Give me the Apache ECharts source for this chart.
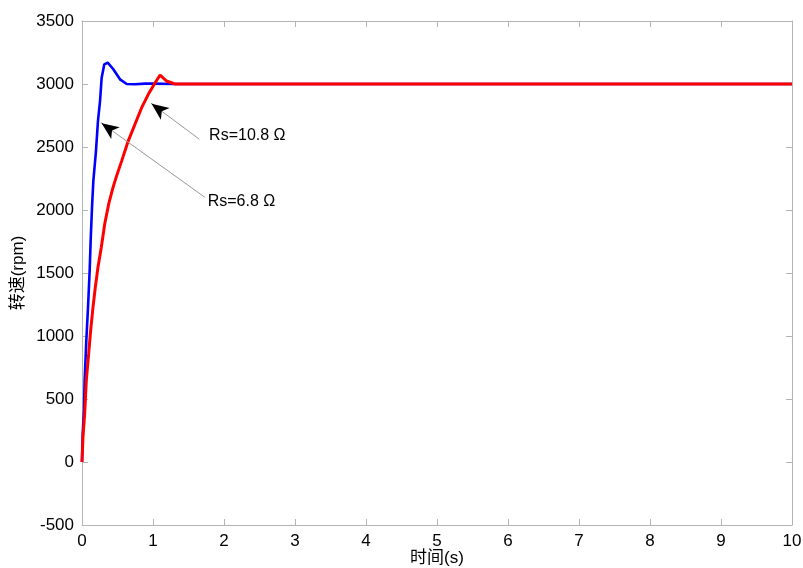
<!DOCTYPE html>
<html>
<head>
<meta charset="utf-8">
<script src="https://cdn.jsdelivr.net/npm/echarts@6/dist/echarts.min.js"></script>
<style>
  html, body { margin: 0; padding: 0; background: #fff; }
  #main { width: 803px; height: 568px; }
</style>
</head>
<body>
<div id="main"></div>
<script>
// 转速响应数据 (时间 s, 转速 rpm)
var blueT = [0, 0.01, 0.028, 0.037, 0.061, 0.085, 0.108, 0.122, 0.141, 0.16, 0.197, 0.225, 0.254, 0.277, 0.314, 0.362, 0.441, 0.535, 0.63, 0.746, 0.887, 1.0, 1.3, 10];
var blueV = [0, 227, 412, 649, 966, 1229, 1520, 1757, 2021, 2232, 2470, 2707, 2865, 3050, 3156, 3169, 3117, 3037, 3000, 2998, 3003, 3003, 3000, 3000];
var redT = [0, 0.014, 0.038, 0.061, 0.094, 0.122, 0.155, 0.188, 0.225, 0.272, 0.32, 0.376, 0.437, 0.484, 0.559, 0.652, 0.746, 0.84, 0.934, 1.03, 1.1, 1.19, 1.31, 10];
var redV = [0, 200, 385, 649, 860, 1045, 1229, 1388, 1546, 1704, 1889, 2048, 2179, 2265, 2390, 2549, 2681, 2812, 2918, 3010, 3071, 3024, 3000, 3000];

var xTicks = [0, 10, 1];
var yTicks = [-500, 3500, 500];

// 标注: [文字, 文字位置, 箭头尾, 箭头尖]
var notes = [
  ["Rs=10.8 Ω", [1.79, 2588], [1.652, 2562], [0.98, 2844]],
  ["Rs=6.8 Ω", [1.77, 2066], [1.732, 2100], [0.277, 2689]]
];

function pairs(t, v) {
  var res = [];
  for (var i = 0; i < t.length; i++) res.push([t[i], v[i]]);
  return res;
}

var font = "Liberation Sans, Arial, Noto Sans CJK SC, sans-serif";
var axisColor = "#b4b4b4";

function baseAxis(range, pos, showLabel) {
  return {
    type: "value",
    position: pos,
    min: range[0],
    max: range[1],
    interval: range[2],
    nameMoveOverlap: false,
    axisLine: { show: true, onZero: false, lineStyle: { color: axisColor, width: 1 } },
    axisTick: { show: true, inside: true, length: 6, lineStyle: { color: axisColor } },
    splitLine: { show: false },
    axisLabel: {
      show: showLabel, color: "#000", fontSize: 17, fontFamily: font, margin: 8,
      formatter: function (v) { return String(v); }
    }
  };
}

var xMain = baseAxis(xTicks, "bottom", true);
xMain.name = "时间(s)";
xMain.nameLocation = "middle";
xMain.nameGap = 25;
xMain.nameTextStyle = { color: "#000", fontSize: 17, fontFamily: font };
var yMain = baseAxis(yTicks, "left", true);
yMain.name = "转速(rpm)";
yMain.nameLocation = "middle";
yMain.nameGap = 55;
yMain.nameTextStyle = { color: "#000", fontSize: 17, fontFamily: font };

var arrowLines = [];
var labelPoints = [];
notes.forEach(function (n) {
  var tip = n[3], tail = n[2];
  // 灰色细线
  arrowLines.push([
    { coord: tail, symbol: "none", lineStyle: { color: "#999", width: 1, type: "solid" } },
    { coord: tip, symbol: "none" }
  ]);
  // 黑色箭头
  var k = 0.06;
  var near = [tip[0] + (tail[0] - tip[0]) * k, tip[1] + (tail[1] - tip[1]) * k];
  arrowLines.push([
    { coord: near, symbol: "none", lineStyle: { color: "#000", width: 1, type: "solid" } },
    { coord: tip, symbol: "arrow", symbolSize: [11, 17] }
  ]);
  labelPoints.push({ coord: n[1], value: n[0] });
});

var myChart = echarts.init(document.getElementById("main"));
var option = {
  backgroundColor: "#fff",
  animation: false,
  grid: { left: 82, right: 11, top: 21, bottom: 43, containLabel: false, outerBoundsMode: "none" },
  xAxis: [xMain, baseAxis(xTicks, "top", false)],
  yAxis: [yMain, baseAxis(yTicks, "right", false)],
  series: [
    {
      name: "Rs=6.8",
      type: "line",
      data: pairs(blueT, blueV),
      showSymbol: false,
      lineStyle: { color: "#0000ff", width: 2.6 },
      z: 2
    },
    {
      name: "Rs=10.8",
      type: "line",
      data: pairs(redT, redV),
      showSymbol: false,
      lineStyle: { color: "#ff0000", width: 3 },
      z: 3,
      markLine: {
        silent: true,
        animation: false,
        symbol: "none",
        lineStyle: { type: "solid" },
        label: { show: false },
        data: arrowLines
      },
      markPoint: {
        silent: true,
        symbol: "circle",
        symbolSize: 0,
        label: {
          show: true,
          position: "right",
          distance: 0,
          color: "#000",
          fontSize: 16,
          fontFamily: font,
          formatter: function (p) { return p.value; }
        },
        data: labelPoints
      }
    }
  ]
};
myChart.setOption(option);
window.addEventListener("resize", function () {
  myChart.resize();
});
</script>
</body>
</html>
